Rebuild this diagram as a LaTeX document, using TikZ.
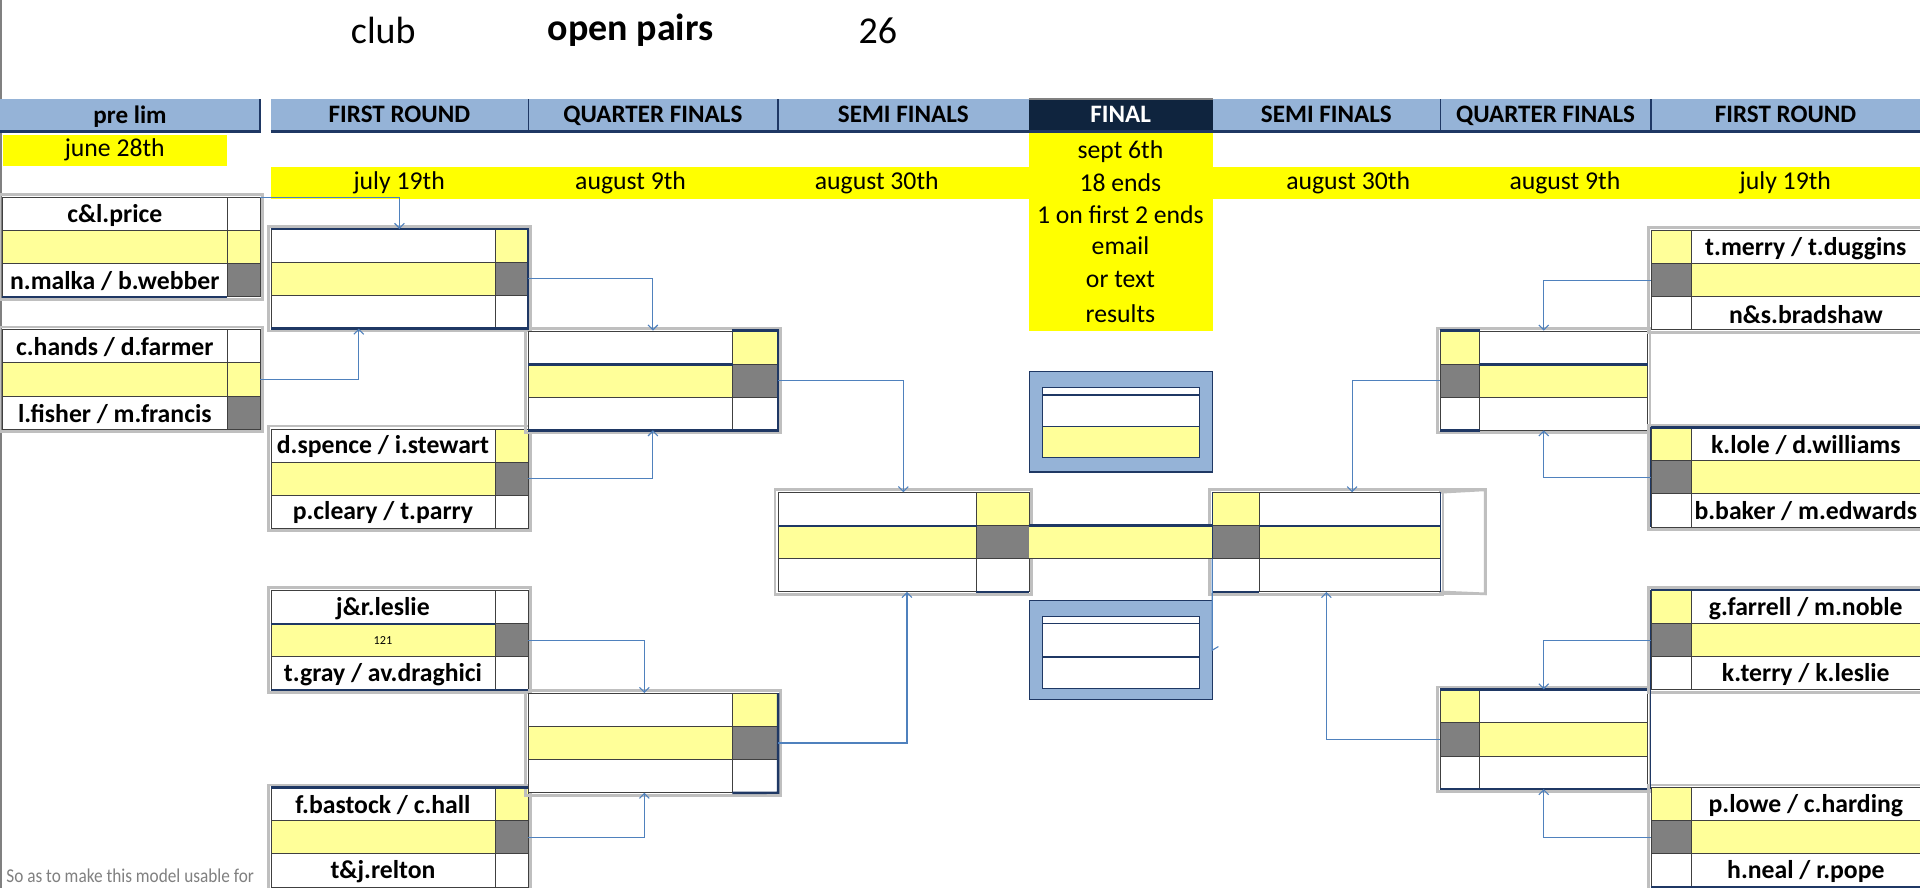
\documentclass[tikz,border=0pt]{standalone}
\usepackage{fontspec}
\setmainfont{Carlito}
\usetikzlibrary{arrows.meta,calc}
\definecolor{hdr}{HTML}{95B3D7}
\definecolor{navy}{HTML}{1F3864}
\definecolor{fin}{HTML}{0F243E}
\definecolor{ybright}{HTML}{FFFF00}
\definecolor{ylight}{HTML}{FFFF99}
\definecolor{sgray}{HTML}{808080}
\definecolor{bgray}{HTML}{BFBFBF}
\definecolor{arr}{HTML}{4F81BD}
\definecolor{cline}{HTML}{404040}
\newcommand\fsz[1]{\fontsize{#1}{#1}\selectfont}
\tikzset{
  cell/.style={draw=cline, line width=0.5pt, inner sep=0pt, minimum height=27pt, anchor=north west},
  nm/.style={font=\fsz{21}\bfseries, inner sep=0pt, yshift=-1pt},
  hcell/.style={fill=hdr, inner sep=0pt, anchor=north west, minimum height=26pt, font=\fsz{20.5}\bfseries, text depth=1pt},
  dt/.style={font=\fsz{21}, inner sep=0pt},
  conn/.style={draw=arr, line width=0.9pt, -{Straight Barb[length=4pt,width=8pt]}},
  outer/.style={draw=bgray, line width=2.2pt},
  nav/.style={draw=navy, line width=2pt},
  navthin/.style={draw=navy, line width=1.1pt},
  boxnode/.style={draw=none, inner sep=0pt, anchor=north west, minimum height=81pt},
}
% #1 name, #2 side L/R, #3 x, #4 y, #5 name width, #6 score width, #7-#9 score colours
\newcommand{\mbx}[9]{%
  \if#2L
    \pgfmathsetmacro\xn{#3}\pgfmathsetmacro\xs{#3+#5}%
  \else
    \pgfmathsetmacro\xs{#3}\pgfmathsetmacro\xn{#3+#6}%
  \fi
  \node[cell, fill=white, minimum width=#5pt] (#1-n1) at (\xn,#4) {};
  \node[cell, fill=ylight, minimum width=#5pt] (#1-n2) at (\xn,#4+27) {};
  \node[cell, fill=white, minimum width=#5pt] (#1-n3) at (\xn,#4+54) {};
  \node[cell, fill=#7, minimum width=#6pt] (#1-s1) at (\xs,#4) {};
  \node[cell, fill=#8, minimum width=#6pt] (#1-s2) at (\xs,#4+27) {};
  \node[cell, fill=#9, minimum width=#6pt] (#1-s3) at (\xs,#4+54) {};
  \pgfmathsetmacro\wt{#5+#6}%
  \node[boxnode, minimum width=\wt pt] (#1) at (#3,#4) {};
  \draw[outer] ([shift={(-2,-2)}]#1.north west) rectangle ([shift={(2,2)}]#1.south east);
}
\begin{document}
\begin{tikzpicture}[x=1pt,y=-1pt]
\useasboundingbox[fill=white] (0,0) rectangle (1568,725);
% left spreadsheet edge
\draw[gray, line width=1.5pt] (1,0) -- (1,725);
% title
\node[font=\fsz{31}, inner sep=0pt] (tclub) at (313,25) {club};
\node[font=\fsz{31}\bfseries, inner sep=0pt] (topen) at (515,25) {open pairs};
\node[font=\fsz{31}, inner sep=0pt] (tnum) at (717,25) {26};
% header
\node[hcell, minimum width=212pt] (hPL) at (0,81) {pre lim};
\node[hcell, minimum width=210pt] (hFR1) at (221,81) {FIRST ROUND};
\node[hcell, minimum width=204pt] (hQF1) at (431,81) {QUARTER FINALS};
\node[hcell, minimum width=205pt] (hSF1) at (635,81) {SEMI FINALS};
\node[hcell, minimum width=186pt] (hSF2) at (990,81) {SEMI FINALS};
\node[hcell, minimum width=172pt] (hQF2) at (1176,81) {QUARTER FINALS};
\node[hcell, minimum width=220pt] (hFR2) at (1348,81) {FIRST ROUND};
% yellow date rows
\node[fill=ybright, inner sep=0pt, anchor=north west, minimum width=1347pt, minimum height=26pt] (band) at (221,136) {};
\node[fill=ybright, inner sep=0pt, anchor=north west, minimum width=150pt, minimum height=163pt] (fcol) at (840,107) {};
\node[fill=ybright, inner sep=0pt, anchor=north west, minimum width=183pt, minimum height=25pt, font=\fsz{21}] (dJune) at (2,110) {june 28th};
\node[hcell, fill=fin, text=white, minimum width=150pt] (hFIN) at (840,81) {FINAL};
\draw[gray, line width=1.5pt] (hFIN.north west) -- (hFIN.north east);
\draw[nav] (hPL.south west) -- (hPL.south east) -- (hPL.north east);
\draw[nav] (hFR1.south west) -- (hFR2.south east);
\draw[navthin] (hFR1.north east) -- (hFR1.south east);
\draw[navthin] (hQF1.north east) -- (hQF1.south east);
\draw[navthin] (hSF2.north east) -- (hSF2.south east);
\draw[navthin] (hQF2.north east) -- (hQF2.south east);
\node[dt] (d1) at (326,149) {july 19th};
\node[dt] (d2) at (515,149) {august 9th};
\node[dt] (d3) at (716,149) {august 30th};
\node[dt] (d4) at (1101,149) {august 30th};
\node[dt] (d5) at (1278,149) {august 9th};
\node[dt] (d6) at (1458,149) {july 19th};
\node[dt] (f1) at (915,124) {sept 6th};
\node[dt] (f2) at (915,149) {18 ends};
\node[dt] (f3) at (915,175) {1 on first 2 ends};
\node[dt] (f4) at (915,201) {email};
\node[dt] (f5) at (915,228) {or text};
\node[dt] (f6) at (915,256) {results};
% match boxes
\mbx{P1}{L}{2}{161}{183}{27}{white}{ylight}{sgray}
\mbx{P2}{L}{2}{269}{183}{27}{white}{ylight}{sgray}
\mbx{F1}{L}{221}{187}{183}{27}{ylight}{sgray}{white}
\mbx{F2}{L}{221}{350}{183}{27}{ylight}{sgray}{white}
\mbx{F3}{L}{221}{482}{183}{27}{white}{sgray}{white}
\mbx{F4}{L}{221}{643}{183}{27}{ylight}{sgray}{white}
\mbx{Q1}{L}{431}{270}{167}{37}{ylight}{sgray}{white}
\mbx{Q2}{L}{431}{566}{167}{37}{ylight}{sgray}{white}
\mbx{S1}{L}{635}{402}{162}{43}{ylight}{sgray}{white}
\draw[outer] (1176,400) rectangle (1213,485);
\mbx{S2}{R}{990}{402}{148}{38}{ylight}{sgray}{white}
\draw[outer] (S2.north east) -- (1213,400) -- (1213,485) -- (S2.south east);
\mbx{Q3}{R}{1176}{270}{137}{32}{ylight}{sgray}{white}
\mbx{Q4}{R}{1176}{563}{137}{32}{ylight}{sgray}{white}
\mbx{R1}{R}{1348}{188}{187}{33}{ylight}{sgray}{white}
\mbx{R2}{R}{1348}{349}{187}{33}{ylight}{sgray}{white}
\mbx{R3}{R}{1348}{482}{187}{33}{ylight}{sgray}{white}
\mbx{R4}{R}{1348}{643}{187}{33}{ylight}{sgray}{white}
% centre band
\node[fill=ylight, inner sep=0pt, anchor=north west, minimum width=150pt, minimum height=27pt] (CB) at (840,429) {};
\draw[nav] (CB.north west) -- (CB.north east);
\draw[draw=cline, line width=1pt] (CB.south west) -- (CB.south east);
% navy accents
\draw[nav] (P1-n3.south west) -- (P1-n3.south east);
\draw[nav] (F1.north west) -- (F1.north east) -- (F1.south east) -- (F1.south west);
\draw[nav] (F3-n1.south west) -- (F3-n1.south east);
\draw[nav] (F3.south west) -- (F3.south east);
\draw[nav] (F4.north west) -- (F4.north east);
\draw[nav] (Q1-s1.north west) -- (Q1.north east) -- (Q1.south east) -- (Q1.south west);
\draw[nav] (Q1-n1.south west) -- (Q1-n1.south east);
\draw[nav] (Q2.north east) -- (Q2.south east) -- (Q2-s3.south west);
\draw[nav] (S1-n1.south west) -- (S1-n1.south east);
\draw[nav] (S1-s3.south west) -- (S1-s3.south east);
\draw[nav] (S2-n1.south west) -- (S2-n1.south east);
\draw[nav] (S2-s3.south west) -- (S2-s3.south east);
\draw[navthin] (S2.north west) -- (S2.south west);
\draw[navthin] (S2-n1.north east) -- (S2-n3.south east);
\draw[nav] (Q3-s1.north west) -- (Q3-s1.north east);
\draw[nav] (Q3-n1.south west) -- (Q3-n1.south east);
\draw[nav] (Q3-s3.south west) -- (Q3-s3.south east);
\draw[nav] (Q4.north west) -- (Q4.north east);
\draw[nav] (Q4.south west) -- (Q4.south east);
\draw[nav] (R2.north west) -- (R2.north east);
\draw[navthin] (R2.north west) -- (R2.south west);
\draw[nav] (R3.north west) -- (R3.north east);
\draw[navthin] (R3.north west) -- (R3.north west |- Q4.south);
\draw[nav] (R4.south west) -- (R4.south east);
% names
\node[nm] at (P1-n1) {c\&l.price};
\node[nm] at (P1-n3) {n.malka / b.webber};
\node[nm] at (P2-n1) {c.hands / d.farmer};
\node[nm] at (P2-n3) {l.fisher / m.francis};
\node[nm] at (F2-n1) {d.spence / i.stewart};
\node[nm] at (F2-n3) {p.cleary / t.parry};
\node[nm] at (F3-n1) {j\&r.leslie};
\node[font=\fsz{10}, inner sep=0pt] at (F3-n2) {121};
\node[nm] at (F3-n3) {t.gray / av.draghici};
\node[nm] at (F4-n1) {f.bastock / c.hall};
\node[nm] at (F4-n3) {t\&j.relton};
\node[nm] at (R1-n1) {t.merry / t.duggins};
\node[nm] at (R1-n3) {n\&s.bradshaw};
\node[nm] at (R2-n1) {k.lole / d.williams};
\node[nm] at (R2-n3) {b.baker / m.edwards};
\node[nm] at (R3-n1) {g.farrell / m.noble};
\node[nm] at (R3-n3) {k.terry / k.leslie};
\node[nm] at (R4-n1) {p.lowe / c.harding};
\node[nm] at (R4-n3) {h.neal / r.pope};
% final boxes
\node[fill=hdr, draw=navy, line width=1pt, inner sep=0pt, anchor=north west, minimum width=150pt, minimum height=82pt] (FB1) at (840,303) {};
\node[fill=white, draw=navy, line width=1pt, inner sep=0pt, anchor=north west, minimum width=128pt, minimum height=6pt] (FB1a) at (851,316) {};
\node[fill=white, draw=navy, line width=1pt, inner sep=0pt, anchor=north west, minimum width=128pt, minimum height=26pt] (FB1b) at (851,322) {};
\node[fill=ylight, draw=navy, line width=1pt, inner sep=0pt, anchor=north west, minimum width=128pt, minimum height=25pt] (FB1c) at (851,348) {};
\node[fill=hdr, draw=navy, line width=1pt, inner sep=0pt, anchor=north west, minimum width=150pt, minimum height=81pt] (FB2) at (840,490) {};
\node[fill=white, draw=navy, line width=1pt, inner sep=0pt, anchor=north west, minimum width=128pt, minimum height=6pt] (FB2a) at (851,503) {};
\node[fill=white, draw=navy, line width=1pt, inner sep=0pt, anchor=north west, minimum width=128pt, minimum height=27pt] (FB2b) at (851,509) {};
\node[fill=white, draw=navy, line width=1pt, inner sep=0pt, anchor=north west, minimum width=128pt, minimum height=26pt] (FB2c) at (851,536) {};
% connectors
\draw[conn] (P1.north east) -| (F1.north);
\draw[conn] (P2-s2.east) -| ($(F1.south west)+(72,0)$);
\draw[conn] (F1-s2.east) -| (Q1.north);
\draw[conn] (F2-s2.east) -| (Q1.south);
\draw[conn] (Q1-s2.east) -| (S1.north);
\draw[conn] (Q2-s2.east) -| ($(S1.south)+(3,0)$);
\draw[conn] (F3-s2.east) -| ($(Q2.north)+(-7,0)$);
\draw[conn] (F4-s2.east) -| ($(Q2.south)+(-7,0)$);
\draw[conn] (R1-s2.west) -| (Q3.north);
\draw[conn] (R2-s2.west) -| (Q3.south);
\draw[conn] (Q3-s2.west) -| ($(S2.north)+(21,0)$);
\draw[conn] (Q4-s2.west) -| (S2.south);
\draw[conn] (R3-s2.west) -| (Q4.north);
\draw[conn] (R4-s2.west) -| (Q4.south);
\coordinate (hk) at (990,531);
\draw[draw=arr, line width=0.9pt] (S2-s2.south west) -- (hk) -- ++(5,-3);
% footnote
\node[text=gray, inner sep=0pt, anchor=west] (foot) at (5,715) {\scalebox{0.88}[1]{\fsz{16}So as to make this model usable for}};
\end{tikzpicture}
\end{document}
